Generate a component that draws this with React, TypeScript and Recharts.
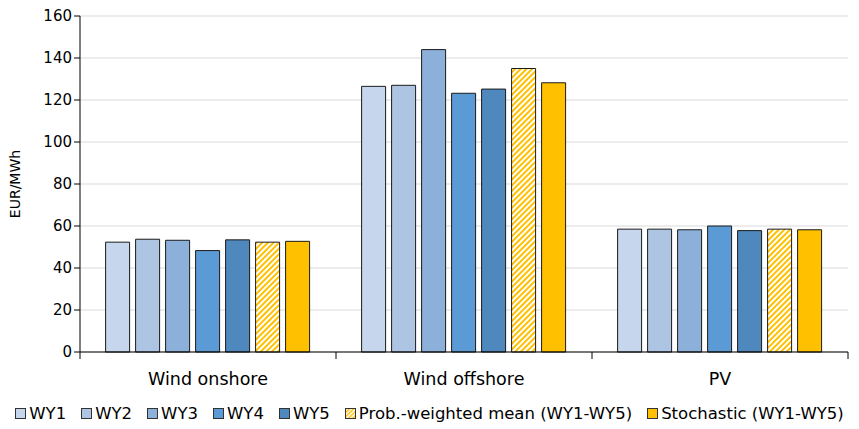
import React from 'react';
import { BarChart, Bar, XAxis, YAxis, CartesianGrid } from 'recharts';

const categories = ['Wind onshore', 'Wind offshore', 'PV'];
const seriesNames = ['WY1', 'WY2', 'WY3', 'WY4', 'WY5', 'Prob.-weighted mean (WY1-WY5)', 'Stochastic (WY1-WY5)'];
const wy1 = [52.3, 126.5, 58.5];
const wy2 = [53.7, 127.0, 58.5];
const wy3 = [53.2, 144.0, 58.2];
const wy4 = [48.3, 123.2, 60.0];
const wy5 = [53.4, 125.2, 57.8];
const probMean = [52.3, 135.0, 58.5];
const stochastic = [52.7, 128.2, 58.2];
const yTicks = [0, 20, 40, 60, 80, 100, 120, 140, 160];

const seriesValues = [wy1, wy2, wy3, wy4, wy5, probMean, stochastic];
const keys = ['wy1', 'wy2', 'wy3', 'wy4', 'wy5', 'prob', 'stoch'];
const fills = ['#c6d6ec', '#adc5e3', '#8db0da', '#5b9bd5', '#4f88bd', 'url(#hatch)', '#ffc000'];

const data = categories.map((c, i) => {
  const row: any = { name: c };
  keys.forEach((k, j) => { row[k] = seriesValues[j][i]; });
  return row;
});

const FONT = '"DejaVu Sans", Verdana, sans-serif';

const CatTick = (props: any) => {
  const { x, y, payload, index } = props;
  const half = payload && payload.offset ? payload.offset : 0;
  return (
    <g>
      {index === 0 ? <line x1={x - half} x2={x - half} y1={y} y2={y + 7} stroke="#000" /> : null}
      <line x1={x + half} x2={x + half} y1={y} y2={y + 7} stroke="#000" />
      <text x={x} y={y + 33} textAnchor="middle" fontSize={17.5} fill="#000" fontFamily={FONT}>{payload.value}</text>
    </g>
  );
};

export default function App() {
  return (
    <div style={{ position: 'absolute', left: 0, top: 0, width: 859, height: 429, background: '#fff', fontFamily: FONT }}>
      <BarChart width={859} height={400} data={data} margin={{ top: 16, right: 11, left: 0, bottom: 8 }}
        barCategoryGap="10%" barGap={6}>
        <defs>
          <pattern id="hatch" patternUnits="userSpaceOnUse" width="4" height="4" patternTransform="rotate(45)">
            <rect width="4" height="4" fill="#ffffff" />
            <rect width="2" height="4" fill="#ffc000" />
          </pattern>
        </defs>
        <CartesianGrid horizontal vertical={false} stroke="#d9d9d9" />
        <XAxis dataKey="name" tickLine={false} tickSize={0} tickMargin={0} axisLine={{ stroke: '#000' }} height={40}
          tick={<CatTick />} interval={0} />
        <YAxis domain={[0, 160]} ticks={yTicks} width={80} tickSize={6}
          axisLine={{ stroke: '#000' }} tickLine={{ stroke: '#000' }}
          tick={{ fill: '#000', fontSize: 15, fontFamily: FONT }}
          label={{ value: 'EUR/MWh', angle: -90, position: 'insideLeft', dx: 10, style: { textAnchor: 'middle', fontSize: 14, fill: '#000', fontFamily: FONT } }} />
        {keys.map((k, j) => (
          <Bar key={k} dataKey={k} name={seriesNames[j]} fill={fills[j]} stroke="#1a1a1a" strokeWidth={1}
            isAnimationActive={false} />
        ))}
      </BarChart>
      <div style={{ position: 'absolute', top: 404, left: 0, width: 859, display: 'flex', justifyContent: 'center', fontSize: 16.5, color: '#000', whiteSpace: 'nowrap' }}>
        {seriesNames.map((n, j) => (
          <span key={n} style={{ display: 'inline-flex', alignItems: 'center', marginRight: j === 6 ? 0 : 15 }}>
            <svg width={11} height={11} style={{ marginRight: 3 }}>
              {j === 5 ? (
                <defs>
                  <pattern id="hatchL" patternUnits="userSpaceOnUse" width="3" height="3" patternTransform="rotate(45)">
                    <rect width="3" height="3" fill="#ffffff" />
                    <rect width="1.5" height="3" fill="#ffc000" />
                  </pattern>
                </defs>
              ) : null}
              <rect x={0.5} y={0.5} width={10} height={10} fill={j === 5 ? 'url(#hatchL)' : fills[j]} stroke="#333" />
            </svg>
            {n}
          </span>
        ))}
      </div>
    </div>
  );
}
